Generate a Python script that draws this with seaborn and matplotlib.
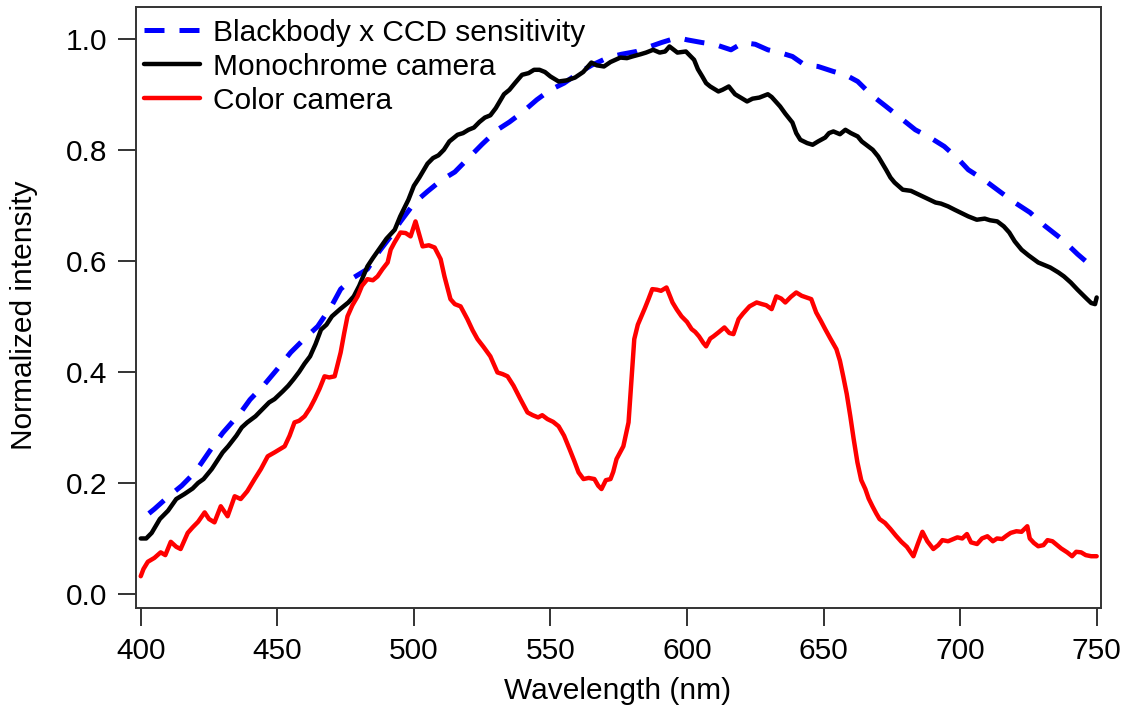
import matplotlib
matplotlib.use("Agg")
import matplotlib.pyplot as plt
import seaborn as sns
import pandas as pd

# Blackbody spectrum weighted by CCD sensitivity (dashed reference)
bb_wl = [403, 405, 410, 415, 420, 425.6, 430, 436.6, 440, 445.4, 450, 454.9, 460, 464.8,
         470, 473.2, 478, 483, 487, 491.5, 495, 500.3, 505, 510, 515, 520, 525, 530.6,
         535, 539.6, 545, 550, 555, 560.6, 565, 571.1, 576, 581.5, 586, 590.6, 596.5,
         600, 605.6, 610, 616.1, 620.6, 625, 629.6, 634, 638.6, 643, 648, 653.6, 658,
         662.5, 665.6, 669, 672.9, 678, 683.6, 689, 694.2, 699, 703, 709, 715, 720,
         725.6, 731, 737.5, 743, 749.4]
bb_val = [0.145, 0.153, 0.175, 0.195, 0.220, 0.260, 0.290, 0.327, 0.350, 0.378, 0.405,
          0.435, 0.460, 0.482, 0.520, 0.549, 0.570, 0.585, 0.615, 0.644, 0.670, 0.705,
          0.725, 0.745, 0.760, 0.785, 0.810, 0.836, 0.850, 0.867, 0.890, 0.908, 0.920,
          0.939, 0.952, 0.966, 0.972, 0.977, 0.985, 0.993, 1.002, 0.998, 0.993, 0.990,
          0.980, 0.993, 0.990, 0.980, 0.975, 0.968, 0.953, 0.950, 0.941, 0.935, 0.923,
          0.908, 0.893, 0.878, 0.858, 0.836, 0.822, 0.806, 0.785, 0.764, 0.745, 0.723,
          0.705, 0.687, 0.663, 0.638, 0.612, 0.585]

# Monochrome camera spectrum
mono_wl = [400, 402, 404, 407, 410, 413, 416, 419, 421, 423, 426, 428, 430, 432, 435, 437,
           439, 442, 445, 447, 449, 452, 454, 456, 458, 460, 462, 464, 466, 468, 470, 473,
           476, 478, 480, 483, 485, 488, 490, 493, 495, 498, 500, 502, 505, 507, 509, 511,
           513, 516, 518, 520, 522, 524, 526, 528, 530, 533, 535, 537, 539.6, 542, 544,
           546, 548, 550, 553, 556, 559, 562, 565, 567, 569.6, 572, 575.6, 578, 580, 583,
           585, 587.6, 590, 592, 593.6, 596.5, 599.6, 601, 602.6, 604, 605.6, 607, 608.5,
           611.5, 613, 615.3, 617.6, 620, 622, 624, 626.5, 629.6, 631, 634.1, 636, 638.6,
           640, 641.5, 644, 646, 648, 650.6, 652, 653.6, 656, 658, 660, 662.5, 664, 665.6,
           668, 670, 672.9, 674.5, 676, 679, 682, 685, 688, 691, 693, 695.6, 698, 700.1,
           703, 706.1, 709, 711, 713.6, 716, 718, 720, 722.5, 725, 728.6, 731, 733, 736,
           738, 740.5, 743, 746.5, 748, 749.4, 750]
mono_val = [0.100, 0.100, 0.110, 0.135, 0.150, 0.171, 0.180, 0.190, 0.200, 0.207, 0.225,
            0.240, 0.255, 0.266, 0.285, 0.300, 0.309, 0.320, 0.335, 0.345, 0.351, 0.365,
            0.375, 0.387, 0.400, 0.415, 0.428, 0.450, 0.476, 0.485, 0.500, 0.513, 0.525,
            0.536, 0.555, 0.590, 0.605, 0.626, 0.640, 0.656, 0.680, 0.710, 0.735, 0.750,
            0.775, 0.785, 0.790, 0.800, 0.815, 0.827, 0.830, 0.836, 0.840, 0.850, 0.858,
            0.862, 0.875, 0.900, 0.908, 0.920, 0.935, 0.938, 0.944, 0.944, 0.940, 0.932,
            0.923, 0.925, 0.930, 0.940, 0.957, 0.952, 0.950, 0.958, 0.966, 0.965, 0.968,
            0.972, 0.975, 0.980, 0.975, 0.977, 0.986, 0.975, 0.977, 0.970, 0.962, 0.945,
            0.932, 0.920, 0.914, 0.905, 0.908, 0.914, 0.900, 0.893, 0.887, 0.892, 0.894,
            0.900, 0.895, 0.878, 0.865, 0.849, 0.830, 0.818, 0.812, 0.809, 0.815, 0.822,
            0.830, 0.833, 0.828, 0.836, 0.830, 0.824, 0.815, 0.809, 0.800, 0.788, 0.764,
            0.750, 0.741, 0.728, 0.726, 0.719, 0.712, 0.705, 0.703, 0.698, 0.692, 0.687,
            0.680, 0.674, 0.676, 0.673, 0.671, 0.662, 0.651, 0.635, 0.620, 0.610, 0.597,
            0.592, 0.588, 0.579, 0.572, 0.561, 0.548, 0.531, 0.524, 0.522, 0.534]

# Color camera spectrum
color_wl = [400, 401, 402.6, 405, 407.3, 409, 411, 413, 414.6, 417.2, 419, 421, 423.4, 425,
            427, 429.3, 431.8, 434.4, 436.6, 439, 441.7, 444, 446.5, 449, 452.7, 454.5,
            456.3, 458, 460, 462, 463.7, 465.5, 467.3, 469, 471, 473.2, 474.5, 475.7, 477.5,
            479.4, 481, 483, 485, 486.7, 488.5, 490.4, 491.5, 492.9, 495.1, 497, 498.8,
            500.6, 501.8, 503.2, 505.5, 507.6, 509.8, 511.2, 513.4, 515, 517.1, 519.6,
            521.5, 523.3, 525.5, 528, 530.6, 532.5, 534.3, 536.5, 539, 541.6, 543.5, 545.5,
            547, 548.9, 551, 553, 555, 557, 558.7, 560.3, 562.1, 564, 566.1, 567.5, 568.7,
            570.3, 572, 573, 574.2, 576.7, 578.6, 579.6, 580.7, 582, 583.3, 584.6, 585.9,
            587.3, 589, 590.5, 592.5, 594.7, 596.3, 598, 600, 601.7, 603, 604.4, 606, 607,
            608.5, 609.7, 611.5, 613.7, 615.5, 617, 618.9, 620.5, 622.9, 625.5, 627.5, 629,
            631, 632.7, 634.5, 636, 638, 640, 642, 645.5, 647.3, 649, 650.6, 652.5, 654.7,
            656, 657.2, 658.5, 659.8, 661, 662.4, 663.8, 665.3, 666.5, 667.9, 669.3, 670.5,
            672.5, 674.5, 676.5, 678.5, 680.5, 682.9, 684.5, 686.2, 688, 690.2, 692, 693.5,
            695.6, 697.5, 699, 700.8, 702.5, 704, 706.2, 708, 710, 712, 713.5, 715.4, 717,
            718.5, 720.6, 722.5, 724.6, 725.5, 727, 728.6, 730.5, 732, 733.8, 735.5, 737,
            739.2, 741, 742.5, 744.3, 746, 748, 750]
color_val = [0.032, 0.045, 0.058, 0.065, 0.075, 0.070, 0.094, 0.085, 0.081, 0.110, 0.120,
             0.130, 0.147, 0.135, 0.129, 0.158, 0.140, 0.176, 0.171, 0.185, 0.207, 0.225,
             0.248, 0.255, 0.266, 0.285, 0.309, 0.312, 0.320, 0.335, 0.351, 0.370, 0.392,
             0.390, 0.392, 0.435, 0.470, 0.500, 0.520, 0.536, 0.555, 0.567, 0.565, 0.572,
             0.585, 0.597, 0.620, 0.633, 0.651, 0.650, 0.644, 0.671, 0.650, 0.626, 0.628,
             0.624, 0.603, 0.572, 0.531, 0.522, 0.518, 0.495, 0.475, 0.459, 0.445, 0.428,
             0.399, 0.396, 0.392, 0.375, 0.351, 0.327, 0.322, 0.318, 0.322, 0.315, 0.310,
             0.302, 0.285, 0.261, 0.240, 0.219, 0.207, 0.209, 0.207, 0.195, 0.189, 0.205,
             0.207, 0.220, 0.243, 0.266, 0.309, 0.380, 0.459, 0.485, 0.500, 0.515, 0.531,
             0.549, 0.548, 0.546, 0.552, 0.525, 0.512, 0.500, 0.490, 0.477, 0.472, 0.464,
             0.452, 0.446, 0.460, 0.464, 0.471, 0.480, 0.470, 0.468, 0.495, 0.505, 0.518,
             0.525, 0.522, 0.520, 0.513, 0.536, 0.532, 0.525, 0.535, 0.543, 0.537, 0.531,
             0.507, 0.492, 0.477, 0.460, 0.441, 0.420, 0.392, 0.360, 0.320, 0.280, 0.237,
             0.205, 0.189, 0.172, 0.158, 0.145, 0.135, 0.128, 0.117, 0.105, 0.094, 0.085,
             0.068, 0.090, 0.112, 0.095, 0.081, 0.088, 0.097, 0.095, 0.099, 0.102, 0.100,
             0.108, 0.093, 0.090, 0.100, 0.104, 0.095, 0.100, 0.099, 0.105, 0.110, 0.113,
             0.112, 0.122, 0.100, 0.092, 0.086, 0.088, 0.097, 0.095, 0.088, 0.082, 0.075,
             0.068, 0.076, 0.075, 0.070, 0.068, 0.068]

series_labels = ["Blackbody x CCD sensitivity", "Monochrome camera", "Color camera"]
x_ticks = [400, 450, 500, 550, 600, 650, 700, 750]
y_ticks = [0.0, 0.2, 0.4, 0.6, 0.8, 1.0]

sns.set_style("ticks")
plt.rcParams["font.family"] = ["Liberation Sans", "DejaVu Sans"]
plt.rcParams["text.color"] = "black"
plt.rcParams["axes.labelcolor"] = "black"
frame_color = "#333333"

fig = plt.figure(figsize=(11.34, 7.15), dpi=100)
ax = fig.add_axes([0.1197, 0.1492, 0.8509, 0.8414])

bb = pd.DataFrame({"wl": bb_wl, "val": bb_val})
mono = pd.DataFrame({"wl": mono_wl, "val": mono_val})
col = pd.DataFrame({"wl": color_wl, "val": color_val})

sns.lineplot(data=bb, x="wl", y="val", ax=ax, color="#0000ff", linewidth=3.6,
             linestyle=(0, (4, 3)), sort=False, estimator=None, label=series_labels[0])
sns.lineplot(data=mono, x="wl", y="val", ax=ax, color="black", linewidth=3.2,
             sort=False, estimator=None, label=series_labels[1])
sns.lineplot(data=col, x="wl", y="val", ax=ax, color="#ff0000", linewidth=3.2,
             sort=False, estimator=None, label=series_labels[2])

ax.set_xlim(398.17, 751.46)
ax.set_ylim(-0.0258, 1.0576)
ax.set_xticks(x_ticks)
ax.set_yticks(y_ticks)
ax.set_yticklabels([f"{v:.1f}" for v in y_ticks])

for side in ["left", "right", "top", "bottom"]:
    ax.spines[side].set_visible(True)
    ax.spines[side].set_color(frame_color)
    ax.spines[side].set_linewidth(1.4)

ax.tick_params(axis="both", direction="out", length=12.7, width=1.4,
               color=frame_color, labelsize=21.5, labelcolor="black", pad=8)

ax.set_xlabel("Wavelength (nm)", fontsize=21.5, color="black")
ax.set_ylabel("Normalized intensity", fontsize=21.5, color="black")
ax.xaxis.set_label_coords(0.4993, -0.1142)
ax.yaxis.set_label_coords(-0.101, 0.4875)

leg = ax.legend(loc="upper left", frameon=False, fontsize=21.5, handlelength=1.87,
                handletextpad=0.44, labelspacing=0.2, borderpad=0, borderaxespad=0,
                bbox_to_anchor=(0.0085, 0.98))
for t in leg.get_texts():
    t.set_color("black")

fig.savefig("out.png", dpi=100)
